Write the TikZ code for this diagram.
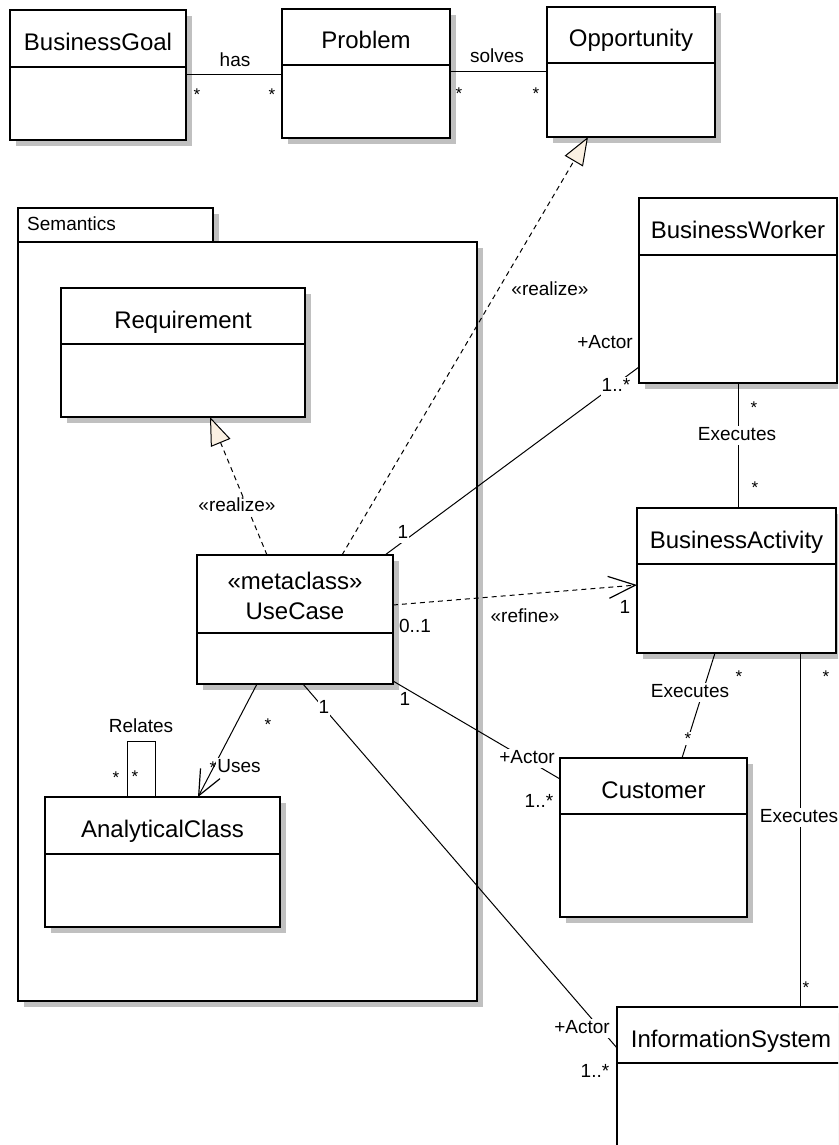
\documentclass[tikz,border=0pt]{standalone}
\usepackage{fontspec}
\setmainfont{Liberation Sans}
\usetikzlibrary{arrows.meta,calc}

\definecolor{shadowgray}{RGB}{192,192,192}
\definecolor{realfill}{RGB}{250,240,226}

\tikzset{
  boxshadow/.style={fill=shadowgray},
  classbox/.style={draw=black, line width=1.6pt, fill=white, inner sep=0pt, outer sep=0pt},
  pkgbox/.style={draw=black, line width=1.6pt, fill=white, inner sep=0pt, outer sep=0pt},
  divider/.style={draw=black, line width=1.6pt},
  classname/.style={font=\fontsize{24}{28}\selectfont, inner sep=0pt, text height=17pt, text depth=5pt, yshift=-6pt},
  assoc/.style={draw=black, line width=1pt, line join=miter},
  depline/.style={assoc, dash pattern=on 5pt off 4pt},
  realizes/.style={depline, -{Triangle[length=28pt, width=21pt, fill=realfill, line width=1pt]}},
  refines/.style={depline, -{Straight Barb[length=27pt, width=22pt, line width=1.2pt]}},
  uses/.style={assoc, -{Straight Barb[length=25pt, width=22pt, line width=1.2pt]}},
  lbl/.style={font=\fontsize{19}{22}\selectfont, inner sep=1pt, text height=13.5pt, text depth=3.5pt},
  onl/.style={lbl, fill=white},
  star/.style={font=\fontsize{17}{20}\selectfont, inner sep=0.5pt, anchor=base, yshift=-10pt},
  onstar/.style={star, fill=white}
}

% \umlbox{name}{left}{top}{right}{bottom}{header bottom}{title}
\newcommand{\umlbox}[7]{%
  \fill[boxshadow] (#2+6,#3+6) rectangle (#4+6,#5+6);
  \node[classbox, anchor=north west, minimum width={(#4-#2)*1pt}, minimum height={(#5-#3)*1pt}] (#1) at (#2,#3) {};
  \coordinate (#1-div) at (0,#6);
  \draw[divider] (#1.west |- #1-div) -- (#1.east |- #1-div);
  \coordinate (#1-hc) at ($(#1.north)!0.5!(#1.north |- #1-div)$);
  \node[classname] (#1-name) at (#1-hc) {#7};
}

\begin{document}
\begin{tikzpicture}[x=1pt, y=-1pt]
  \clip (0,0) rectangle (838,1145);
  \fill[white] (0,0) rectangle (838,1145);

  % package Semantics
  \fill[boxshadow] (24,214) rectangle (219,248);
  \fill[boxshadow] (24,248) rectangle (483,1007);
  \node[pkgbox, anchor=north west, minimum width=195pt, minimum height=34pt] (pkgtab) at (18,208) {};
  \node[pkgbox, anchor=north west, minimum width=459pt, minimum height=759pt] (pkg) at (18,242) {};
  \node[lbl, anchor=west] (pkgname) at (26,225) {Semantics};

  % classes
  \umlbox{bg}{10}{10}{186}{140}{67}{BusinessGoal}
  \umlbox{pr}{282}{9}{450}{138}{65}{Problem}
  \umlbox{op}{547}{7}{715}{137}{63}{Opportunity}
  \umlbox{req}{61}{288}{305}{417}{344}{Requirement}
  \umlbox{uc}{197}{555}{393}{684}{633}{}
  \node[classname, yshift=6pt] (uc-stereo) at (295,583) {«metaclass»};
  \node[classname, yshift=6pt] (uc-name2) at (295,613.6) {UseCase};
  \umlbox{ac}{45}{797}{280}{927}{854}{AnalyticalClass}
  \umlbox{bw}{639}{198}{837}{383}{255}{BusinessWorker}
  \umlbox{ba}{637}{508}{836}{653}{564}{BusinessActivity}
  \umlbox{cu}{560}{758}{747}{917}{814}{Customer}
  \umlbox{is}{617}{1007}{845}{1180}{1063}{InformationSystem}

  % associations along the top row
  \coordinate (has-a) at ([yshift=-65pt]bg.north east);
  \draw[assoc] (has-a) -- (has-a -| pr.west);
  \coordinate (solves-a) at ([yshift=-63pt]pr.north east);
  \draw[assoc] (solves-a) -- (solves-a -| op.west);
  \node[lbl] (has-l) at (235,62) {has};
  \node[star] (has-m1) at (197,91) {*};
  \node[star] (has-m2) at (272,91) {*};
  \node[lbl] (solves-l) at (497,58) {solves};
  \node[star] (solves-m1) at (459,90) {*};
  \node[star] (solves-m2) at (536,90) {*};

  % realizations
  \draw[realizes] ([xshift=70pt]uc.north west) -- ([xshift=149pt]req.south west);
  \draw[realizes] ([xshift=145pt]uc.north west) -- ([xshift=41pt]op.south west);
  \node[onl] (real1) at (237,506) {«realize»};
  \node[lbl] (real2) at (550,290) {«realize»};

  % UseCase to BusinessWorker
  \draw[assoc] ([xshift=-8pt]uc.north east) -- ([yshift=-169pt]bw.north west);
  \node[onl] (bw-m1) at (403,533) {1};
  \node[lbl] (bw-role) at (605,343) {+Actor};
  \node[onl] (bw-m2) at (616,386) {1..*};

  % refine dependency
  \draw[refines] ([yshift=-50pt]uc.north east) -- ([yshift=-77pt]ba.north west);
  \node[lbl] (ref-l) at (525,617) {«refine»};
  \node[lbl] (ref-m1) at (415,627) {0..1};
  \node[lbl] (ref-m2) at (625,608) {1};

  % Executes: BusinessWorker - BusinessActivity
  \coordinate (ex1-a) at ([xshift=99pt]bw.south west);
  \draw[assoc] (ex1-a) -- (ex1-a |- ba.north);
  \node[onl] (ex1-l) at (737,435) {Executes};
  \node[star] (ex1-m1) at (754,403) {*};
  \node[star] (ex1-m2) at (755,483) {*};

  % Executes: BusinessActivity - Customer
  \draw[assoc] ([xshift=78pt]ba.south west) -- ([xshift=122pt]cu.north west);
  \node[onl] (ex2-l) at (690,692) {Executes};
  \node[star] (ex2-m1) at (739,672) {*};
  \node[onstar] (ex2-m2) at (688,734) {*};

  % Executes: BusinessActivity - InformationSystem
  \coordinate (ex3-a) at ([xshift=163pt]ba.south west);
  \draw[assoc] (ex3-a) -- (ex3-a |- is.north);
  \node[onl] (ex3-l) at (799,817) {Executes};
  \node[star] (ex3-m1) at (826,672) {*};
  \node[star] (ex3-m2) at (806,983) {*};

  % UseCase to Customer
  \draw[assoc] ([yshift=3pt]uc.south east) -- ([yshift=-21pt]cu.north west);
  \node[lbl] (cu-m1) at (405,700) {1};
  \node[onl] (cu-role) at (527,758) {+Actor};
  \node[lbl] (cu-m2) at (539,802) {1..*};

  % UseCase to InformationSystem
  \draw[assoc] ([xshift=106pt]uc.south west) -- ([yshift=-41pt]is.north west);
  \node[onl] (is-m1) at (324,708) {1};
  \node[onl] (is-role) at (582,1028) {+Actor};
  \node[lbl] (is-m2) at (595,1072) {1..*};

  % Uses: UseCase to AnalyticalClass
  \draw[uses] ([xshift=60pt]uc.south west) -- ([xshift=153pt]ac.north west);
  \node[star] (uses-m1) at (268,720) {*};
  \node[onl] (uses-l) at (239,767) {Uses};
  \node[star] (uses-m2) at (213,763) {*};

  % Relates: AnalyticalClass to itself
  \draw[assoc] ([xshift=82pt]ac.north west) -- ++(0,-56) -| ([xshift=110pt]ac.north west);
  \node[lbl] (rel-l) at (141,727) {Relates};
  \node[star] (rel-m1) at (116,773) {*};
  \node[star] (rel-m2) at (135,772) {*};
\end{tikzpicture}
\end{document}
